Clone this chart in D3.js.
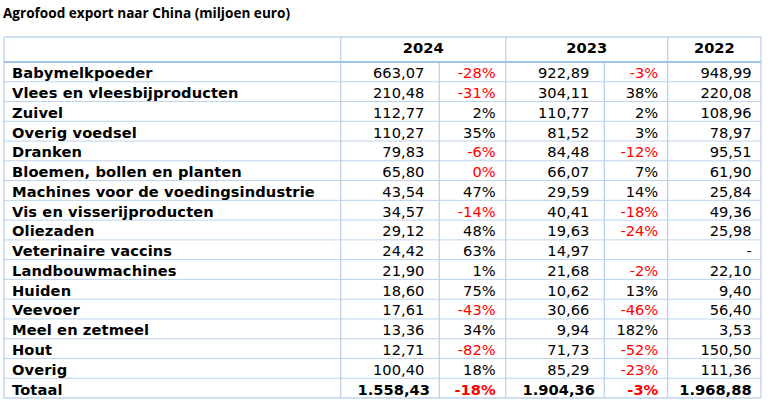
<!DOCTYPE html>
<html>
<head>
<meta charset="utf-8">
<script src="https://cdn.jsdelivr.net/npm/d3@7"></script>
<style>
    body { margin: 0; background: #fff; }
    svg { display: block; }
</style>
</head>
<body>
<div class="curr-graff"></div>
<script>
const categories = ["Babymelkpoeder", "Vlees en vleesbijproducten", "Zuivel", "Overig voedsel", "Dranken",
    "Bloemen, bollen en planten", "Machines voor de voedingsindustrie", "Vis en visserijproducten", "Oliezaden",
    "Veterinaire vaccins", "Landbouwmachines", "Huiden", "Veevoer", "Meel en zetmeel", "Hout", "Overig"];
const years = ["2024", "2023", "2022"];
const val2024 = [663.07, 210.48, 112.77, 110.27, 79.83, 65.80, 43.54, 34.57, 29.12, 24.42, 21.90, 18.60, 17.61, 13.36, 12.71, 100.40];
const pct2024 = [-28, -31, 2, 35, -6, -0.3, 47, -14, 48, 63, 1, 75, -43, 34, -82, 18];
const val2023 = [922.89, 304.11, 110.77, 81.52, 84.48, 66.07, 29.59, 40.41, 19.63, 14.97, 21.68, 10.62, 30.66, 9.94, 71.73, 85.29];
const pct2023 = [-3, 38, 2, 3, -12, 7, 14, -18, -24, null, -2, 13, -46, 182, -52, -23];
const val2022 = [948.99, 220.08, 108.96, 78.97, 95.51, 61.90, 25.84, 49.36, 25.98, null, 22.10, 9.40, 56.40, 3.53, 150.50, 111.36];
const totalLabel = "Totaal";
const totals = [1558.43, -18, 1904.36, -3, 1968.88];

const titleText = "Agrofood export naar China (miljoen euro)";

function DrawTable() {
    const width = 773;
    const height = 404;

    const svg = d3.select(".curr-graff")
        .append("svg")
        .attr("width", width)
        .attr("height", height);

    const nl = d3.formatLocale({decimal: ",", thousands: ".", grouping: [3], currency: ["€", ""], minus: "-"});
    const fmtVal = nl.format(",.2f");
    const fmtPct = nl.format(".0f");

    const cols = ["label", "v2024", "p2024", "v2023", "p2023", "v2022", "end"];
    const xEdge = d3.scaleOrdinal()
        .domain(cols)
        .range([4, 340.7, 439.3, 505.7, 604.3, 667.7, 761]);

    const rowKeys = categories.concat([totalLabel]);
    const yScale = d3.scaleBand()
        .domain(rowKeys)
        .range([62, 398]);

    const headTop = 37;
    const thin = "#bcd3ec";
    const thick = "#9dc3e6";

    // title
    svg.append("text")
        .attr("x", 3)
        .attr("y", 18)
        .attr("textLength", 287)
        .attr("lengthAdjust", "spacingAndGlyphs")
        .style("font-family", "'Open Sans', sans-serif")
        .style("font-weight", "bold")
        .style("font-size", "14.5px")
        .style("fill", "#000")
        .text(titleText);

    // horizontal lines between rows
    svg.selectAll("line.row")
        .data(rowKeys.slice(1))
        .enter()
        .append("line")
        .attr("class", "row")
        .attr("x1", xEdge("label"))
        .attr("x2", xEdge("end"))
        .attr("y1", d => yScale(d))
        .attr("y2", d => yScale(d))
        .attr("stroke", thin)
        .attr("stroke-width", 1);

    // vertical lines
    const fullCols = ["label", "v2024", "v2023", "v2022", "end"];
    svg.selectAll("line.vfull")
        .data(fullCols)
        .enter()
        .append("line")
        .attr("x1", d => xEdge(d))
        .attr("x2", d => xEdge(d))
        .attr("y1", headTop)
        .attr("y2", yScale.range()[1])
        .attr("stroke", thin)
        .attr("stroke-width", 1.3);

    svg.selectAll("line.vbody")
        .data(["p2024", "p2023"])
        .enter()
        .append("line")
        .attr("x1", d => xEdge(d))
        .attr("x2", d => xEdge(d))
        .attr("y1", yScale.range()[0])
        .attr("y2", yScale.range()[1])
        .attr("stroke", thin)
        .attr("stroke-width", 1.3);

    // outer top/bottom and header line
    [headTop, yScale.range()[1]].forEach(y => {
        svg.append("line")
            .attr("x1", xEdge("label")).attr("x2", xEdge("end"))
            .attr("y1", y).attr("y2", y)
            .attr("stroke", thin).attr("stroke-width", 1.3);
    });
    svg.append("line")
        .attr("x1", xEdge("label")).attr("x2", xEdge("end"))
        .attr("y1", yScale.range()[0]).attr("y2", yScale.range()[0])
        .attr("stroke", thick).attr("stroke-width", 2.2);

    const fontBody = "'DejaVu Sans', Verdana, sans-serif";

    // header years
    const yearSpan = [["v2024", "v2023"], ["v2023", "v2022"], ["v2022", "end"]];
    svg.selectAll("text.year")
        .data(years)
        .enter()
        .append("text")
        .attr("class", "year")
        .attr("x", (d, i) => (xEdge(yearSpan[i][0]) + xEdge(yearSpan[i][1])) / 2)
        .attr("y", 52.7)
        .attr("text-anchor", "middle")
        .style("font-family", fontBody)
        .style("font-weight", "bold")
        .style("font-size", "14.67px")
        .text(d => d);

    const base = 16.3;

    // labels
    svg.selectAll("text.label")
        .data(rowKeys)
        .enter()
        .append("text")
        .attr("class", "label")
        .attr("x", 12)
        .attr("y", d => yScale(d) + base)
        .style("font-family", fontBody)
        .style("font-weight", "bold")
        .style("font-size", "14.67px")
        .style("letter-spacing", "0.1px")
        .text(d => d);

    // cells
    let cells = [];
    categories.forEach((c, i) => {
        cells.push({row: c, col: "p2024", text: fmtVal(val2024[i]), v: val2024[i], pad: 15, num: true});
        cells.push({row: c, col: "v2023", text: pct2024[i] == null ? "" : fmtPct(pct2024[i]) + "%", v: pct2024[i], pad: 10});
        cells.push({row: c, col: "p2023", text: fmtVal(val2023[i]), v: val2023[i], pad: 15, num: true});
        cells.push({row: c, col: "v2022", text: pct2023[i] == null ? "" : fmtPct(pct2023[i]) + "%", v: pct2023[i], pad: 9.4});
        cells.push({row: c, col: "end", text: val2022[i] == null ? "-" : fmtVal(val2022[i]), v: val2022[i], pad: 9.3, num: true});
    });
    const totCols = ["p2024", "v2023", "p2023", "v2022", "end"];
    totals.forEach((t, j) => {
        let isVal = (j % 2 === 0);
        cells.push({
            row: totalLabel, col: totCols[j],
            text: isVal ? fmtVal(t) : fmtPct(t) + "%",
            v: t, pad: j === 1 ? 10 : 9.4, num: isVal, bold: true
        });
    });

    svg.selectAll("text.cell")
        .data(cells)
        .enter()
        .append("text")
        .attr("class", "cell")
        .attr("x", d => xEdge(d.col) - d.pad)
        .attr("y", d => yScale(d.row) + base)
        .attr("text-anchor", "end")
        .style("font-family", fontBody)
        .style("font-weight", d => d.bold ? "bold" : "normal")
        .style("font-size", "14.67px")
        .style("fill", d => (!d.num && d.v != null && d.v < 0) ? "#ff0000" : "#000")
        .text(d => d.text);
}

DrawTable();
</script>
</body>
</html>
